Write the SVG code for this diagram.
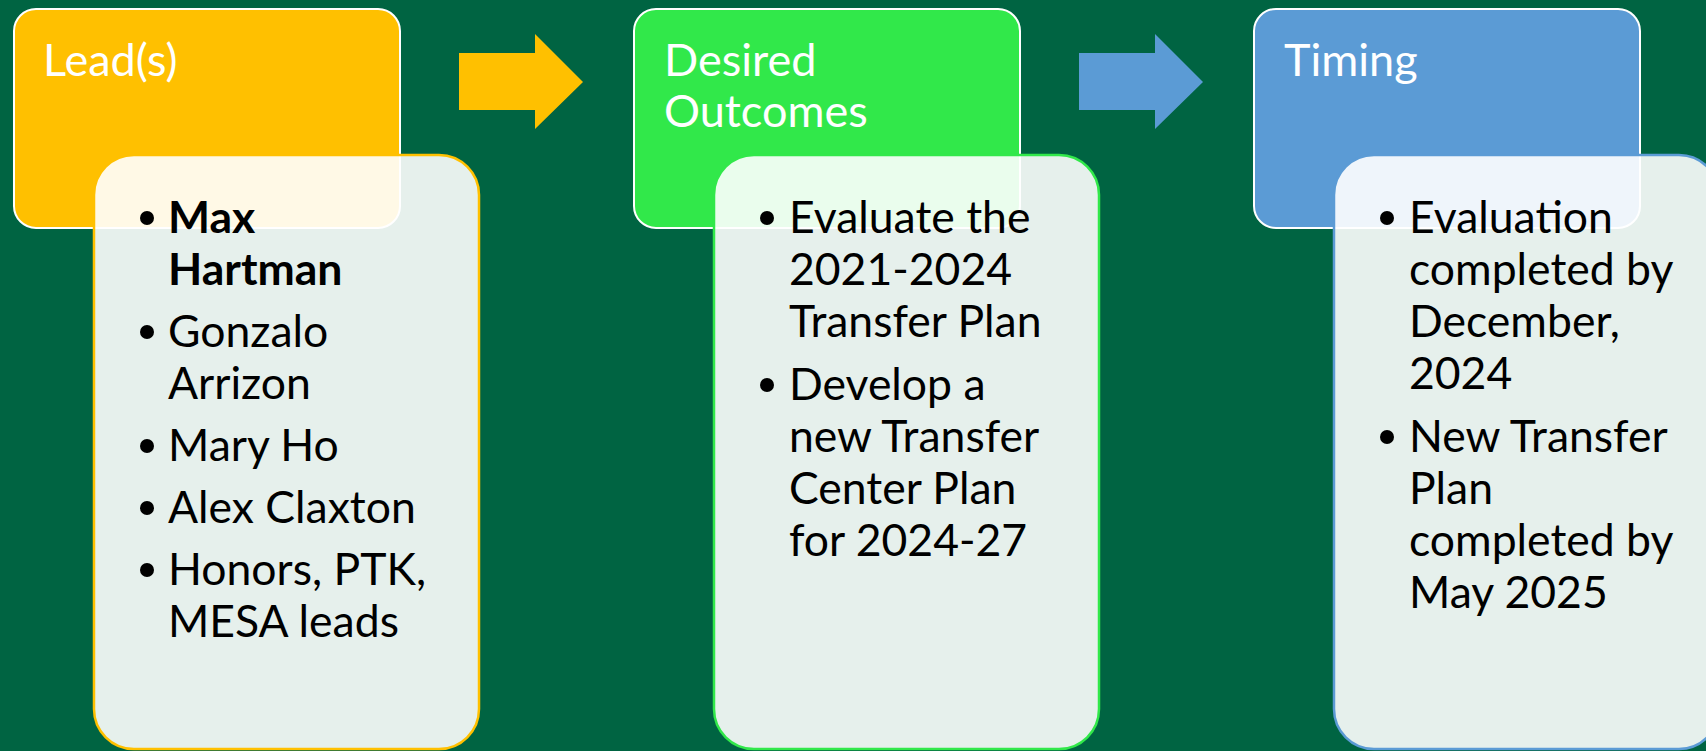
<svg xmlns="http://www.w3.org/2000/svg" width="1706" height="751" viewBox="0 0 1706 751">
<style>
.bg{fill:#006442}
.head{stroke:#FFFFFF;stroke-width:2}
.body{fill:#FFFFFF;fill-opacity:0.9;stroke-width:2.5}
.t{font-family:Lato,"Open Sans",sans-serif;font-size:44.5px}
.tt{fill:#FFFFFF;font-size:45px}
.bt{fill:#000000}
.b{font-weight:bold}
.dot{fill:#000000}
</style>
<rect class="bg" x="0" y="0" width="1706" height="751"/>

<g id="connectors">
  <polygon points="459,53 535,53 535,34 583,82 535,129 535,110 459,110" fill="#FFC000"/>
  <polygon points="1079,53 1155,53 1155,34 1203,82 1155,129 1155,110 1079,110" fill="#5B9BD5"/>
</g>

<g id="node-leads">
  <rect class="head" x="14" y="9" width="386" height="219" rx="22" fill="#FFC000"/>
  <text class="t tt" x="43" y="76">Lead(s)</text>
  <rect class="body" x="94" y="155" width="385" height="594" rx="40" stroke="#FFC000"/>
  <g class="t bt">
    <circle class="dot" cx="147" cy="218" r="7"/>
    <text class="b" x="168" y="233">Max</text>
    <text class="b" x="168" y="285">Hartman</text>
    <circle class="dot" cx="147" cy="332" r="7"/>
    <text x="168" y="347">Gonzalo</text>
    <text x="168" y="399">Arrizon</text>
    <circle class="dot" cx="147" cy="446" r="7"/>
    <text x="168" y="461">Mary Ho</text>
    <circle class="dot" cx="147" cy="508" r="7"/>
    <text x="168" y="523">Alex Claxton</text>
    <circle class="dot" cx="147" cy="570" r="7"/>
    <text x="168" y="585">Honors, PTK,</text>
    <text x="168" y="637">MESA leads</text>
  </g>
</g>

<g id="node-outcomes">
  <rect class="head" x="634" y="9" width="386" height="219" rx="22" fill="#31E84A"/>
  <text class="t tt" x="664" y="76">Desired</text>
  <text class="t tt" x="664" y="127">Outcomes</text>
  <rect class="body" x="714" y="155" width="385" height="594" rx="40" stroke="#31E84A"/>
  <g class="t bt">
    <circle class="dot" cx="767" cy="218" r="7"/>
    <text x="789" y="233">Evaluate the</text>
    <text x="789" y="285">2021-2024</text>
    <text x="789" y="337">Transfer Plan</text>
    <circle class="dot" cx="767" cy="385" r="7"/>
    <text x="789" y="400">Develop a</text>
    <text x="789" y="452">new Transfer</text>
    <text x="789" y="504">Center Plan</text>
    <text x="789" y="556">for 2024-27</text>
  </g>
</g>

<g id="node-timing">
  <rect class="head" x="1254" y="9" width="386" height="219" rx="22" fill="#5B9BD5"/>
  <text class="t tt" x="1284" y="76">Timing</text>
  <rect class="body" x="1334" y="155" width="385" height="594" rx="40" stroke="#5B9BD5"/>
  <g class="t bt">
    <circle class="dot" cx="1387" cy="218" r="7"/>
    <text x="1409" y="233">Evaluation</text>
    <text x="1409" y="285">completed by</text>
    <text x="1409" y="337">December,</text>
    <text x="1409" y="389">2024</text>
    <circle class="dot" cx="1387" cy="437" r="7"/>
    <text x="1409" y="452">New Transfer</text>
    <text x="1409" y="504">Plan</text>
    <text x="1409" y="556">completed by</text>
    <text x="1409" y="608">May 2025</text>
  </g>
</g>
</svg>
